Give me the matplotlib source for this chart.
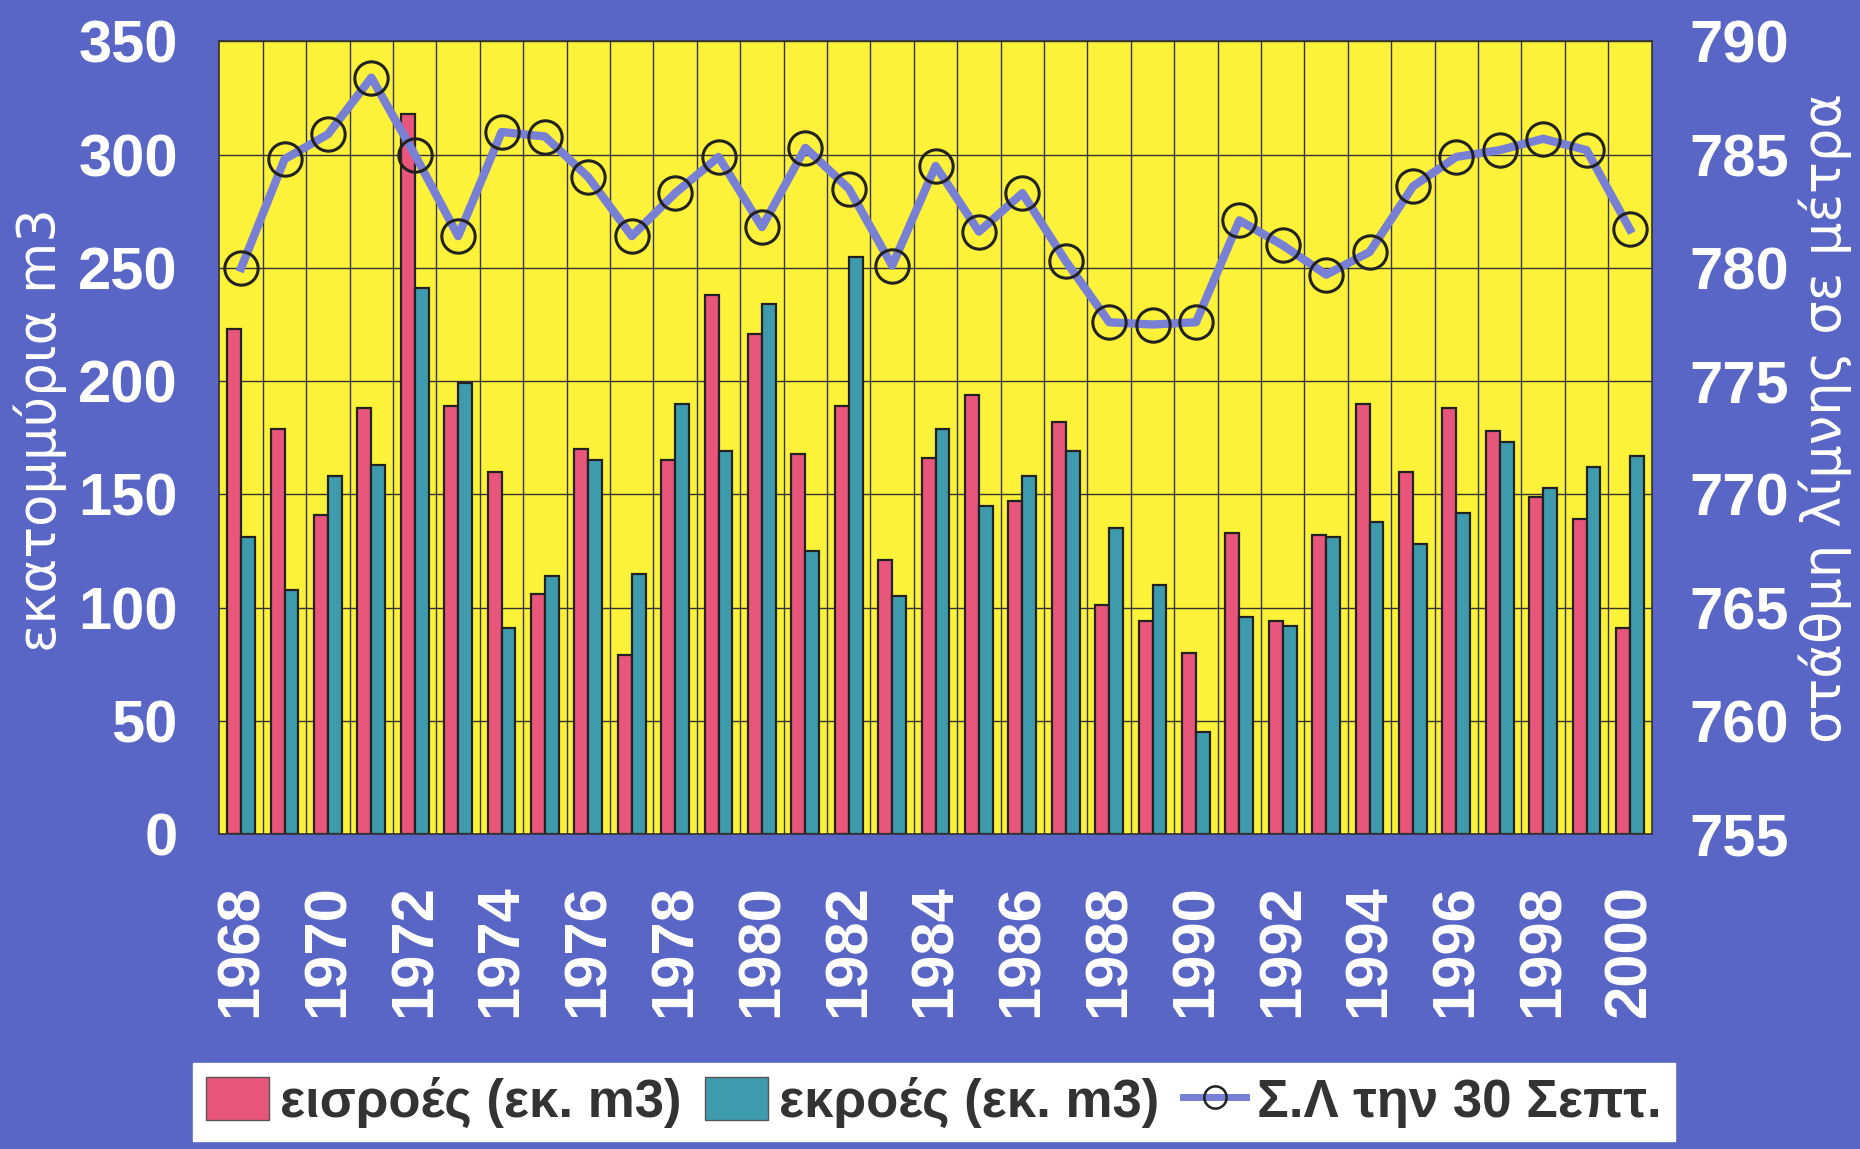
import numpy as np
import matplotlib.pyplot as plt
from matplotlib.lines import Line2D
from matplotlib.patches import Patch

years = list(range(1968, 2001))
inflow = [223, 179, 141, 188, 318, 189, 160, 106, 170, 79,
          165, 238, 221, 168, 189, 121, 166, 194, 147, 182,
          101, 94, 80, 133, 94, 132, 190, 160, 188, 178,
          149, 139, 91]
outflow = [131, 108, 158, 163, 241, 199, 91, 114, 165, 115,
           190, 169, 234, 125, 255, 105, 179, 145, 158, 169,
           135, 110, 45, 96, 92, 131, 138, 128, 142, 173,
           153, 162, 167]
level = [780.0, 784.8, 785.9, 788.4, 785.0, 781.4, 786.0, 785.8, 784.0, 781.4,
         783.3, 784.9, 781.8, 785.3, 783.5, 780.1, 784.5, 781.6, 783.3, 780.3,
         777.6, 777.5, 777.6, 782.1, 781.0, 779.7, 780.7, 783.6, 784.9, 785.2,
         785.7, 785.2, 781.7]

blue_bg = '#5966C6'
yellow = '#FDF23A'
red = '#E9567C'
teal = '#3E9BAE'
line_col = '#7880D6'

plt.rcParams['font.family'] = ['Liberation Sans', 'DejaVu Sans']

fig = plt.figure(figsize=(18.6, 11.49), dpi=100, facecolor=blue_bg)
ax = fig.add_axes([0.118, 0.274, 0.770, 0.690])
ax.set_facecolor(yellow)

x = np.arange(len(years))
w = 0.32
ax.bar(x - w / 2, inflow, w, color=red, edgecolor='#222222', linewidth=1.6, zorder=2)
ax.bar(x + w / 2, outflow, w, color=teal, edgecolor='#222222', linewidth=1.6, zorder=2)

ax.set_xlim(-0.5, len(years) - 0.5)
ax.set_ylim(0, 350)
ax.set_yticks(range(0, 351, 50))
ax.set_xticks(x[::2])
ax.set_xticklabels([str(y) for y in years[::2]], rotation=90)
ax.set_xticks(x[:-1] + 0.5, minor=True)
ax.grid(axis='y', which='major', color='#333333', linewidth=1.0, zorder=1)
ax.grid(axis='x', which='minor', color='#333333', linewidth=1.0, zorder=1)
ax.grid(axis='x', which='major', visible=False)
ax.tick_params(axis='both', which='both', length=0)
ax.tick_params(axis='y', labelsize=43, labelcolor='white', pad=30)
ax.tick_params(axis='x', labelsize=43, labelcolor='white', pad=36)
for lbl in ax.get_xticklabels() + ax.get_yticklabels():
    lbl.set_fontweight('bold')
for s in ax.spines.values():
    s.set_color('#333333')
    s.set_linewidth(1.2)

ax.set_ylabel('εκατομμύρια m3', fontsize=38, color='white', va='center', family='DejaVu Sans')
ax.yaxis.set_label_coords(-0.125, 0.51)

ax2 = ax.twinx()
ax2.plot(x, level, color=line_col, linewidth=6, marker='o', markersize=24,
         markerfacecolor='none', markeredgecolor='#222222', markeredgewidth=2.2, zorder=5)
ax2.set_ylim(755, 790)
ax2.set_yticks(range(755, 791, 5))
ax2.tick_params(axis='y', length=0, labelsize=43, labelcolor='white', pad=27)
for lbl in ax2.get_yticklabels():
    lbl.set_fontweight('bold')
for s in ax2.spines.values():
    s.set_visible(False)
ax2.set_ylabel('στάθμη λίμνης σε μέτρα', fontsize=38, color='white', rotation=90,
               va='center', family='DejaVu Sans')
ax2.yaxis.set_label_coords(1.121, 0.525)

handles = [Patch(facecolor=red, edgecolor='#555555'),
           Patch(facecolor=teal, edgecolor='#555555'),
           Line2D([0], [0], color=line_col, linewidth=5, marker='o', markersize=16,
                  markerfacecolor='none', markeredgecolor='#222222', markeredgewidth=1.8)]
labels = ['εισροές (εκ. m3)', 'εκροές (εκ. m3)', 'Σ.Λ την 30 Σεπτ.']
leg = fig.legend(handles, labels, loc='lower center', bbox_to_anchor=(0.502, -0.016), ncol=3,
                 frameon=True, fancybox=False, facecolor='white', edgecolor='white',
                 framealpha=1, handlelength=1.2, handleheight=0.9, handletextpad=0.2,
                 columnspacing=0.45, borderpad=0.25,
                 prop={'family': ['Liberation Sans', 'DejaVu Sans'],
                       'weight': 'bold', 'size': 38})
for t in leg.get_texts():
    t.set_color('#333333')

fig.savefig('out.png', dpi=100, facecolor=blue_bg)
